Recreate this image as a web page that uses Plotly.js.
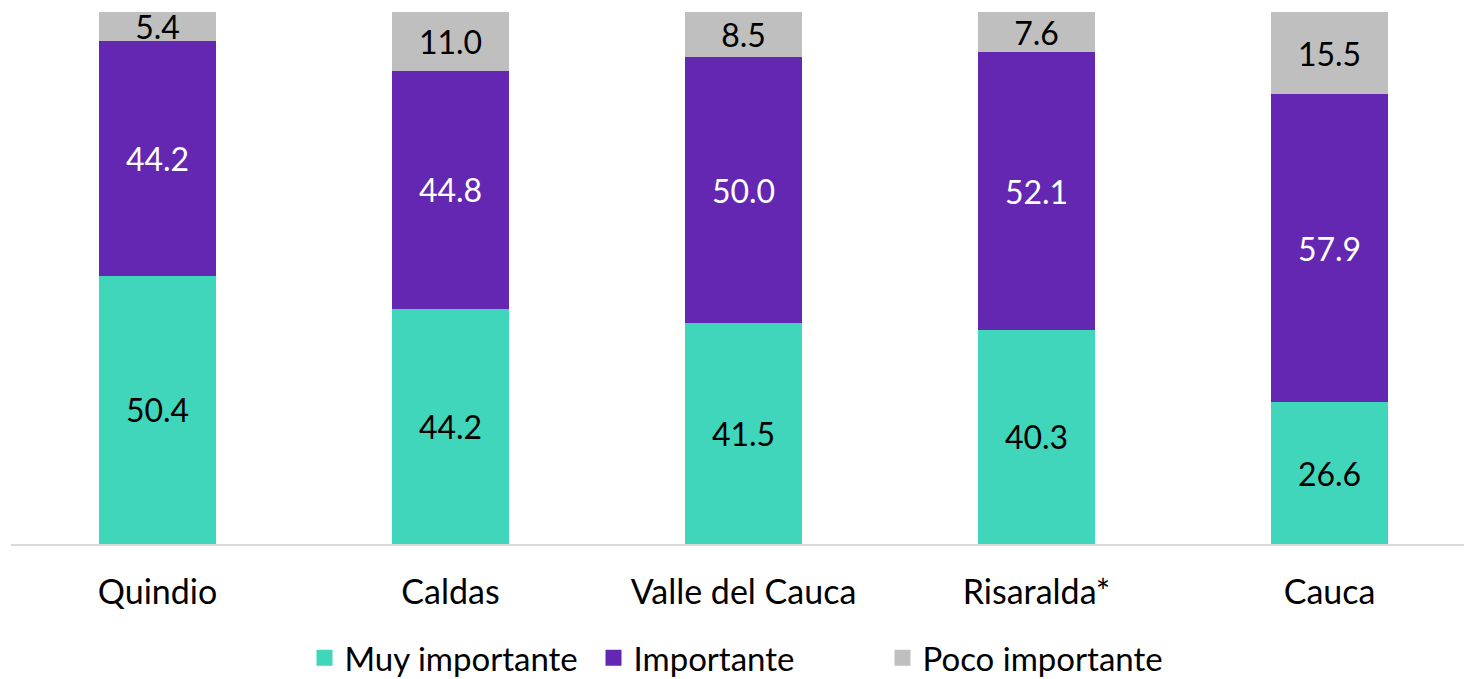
<!DOCTYPE html>
<html>
<head>
<meta charset="utf-8">
<script src="https://cdn.plot.ly/plotly-3.0.1.min.js"></script>
<style>html,body{margin:0;padding:0;background:#fff;}#chart{width:1464px;height:679px;}</style>
</head>
<body>
<div id="chart"></div>
<script>
const categories = ["Quindio", "Caldas", "Valle del Cauca", "Risaralda*", "Cauca"];
const muyImportante = [50.4, 44.2, 41.5, 40.3, 26.6];
const importante = [44.2, 44.8, 50.0, 52.1, 57.9];
const pocoImportante = [5.4, 11.0, 8.5, 7.6, 15.5];
const seriesNames = ["Muy importante", "Importante", "Poco importante"];
const colors = ["#40d6bb", "#6327b1", "#bfbfbf"];
const textColors = ["#000000", "#ffffff", "#000000"];

const FONT = "Lato, 'Noto Sans', sans-serif";
const seriesData = [muyImportante, importante, pocoImportante];

const traces = seriesData.map((vals, i) => ({
  type: "bar",
  x: categories,
  y: vals,
  name: seriesNames[i],
  marker: {color: colors[i]},
  width: 0.4,
  text: vals.map(v => v.toFixed(1)),
  textposition: "inside",
  insidetextanchor: "middle",
  textangle: 0,
  constraintext: "none",
  textfont: {family: FONT, size: 32, color: textColors[i]},
  hoverinfo: "skip",
  showlegend: false
}));

// legend entries
seriesNames.forEach((n, i) => {
  traces.push({
    type: "scatter",
    mode: "markers",
    x: [null], y: [null],
    name: n,
    marker: {symbol: "square", size: 16, color: colors[i]},
    showlegend: true,
    hoverinfo: "skip"
  });
});

const layout = {
  width: 1464,
  height: 679,
  margin: {l: 11, r: 0, t: 12, b: 135, autoexpand: false},
  barmode: "stack",
  paper_bgcolor: "#ffffff",
  plot_bgcolor: "#ffffff",
  font: {family: FONT, size: 34, color: "#000000"},
  xaxis: {
    type: "category",
    range: [-0.5, 4.459],
    showline: true,
    linecolor: "#d9d9d9",
    linewidth: 2,
    showgrid: false,
    zeroline: false,
    ticks: "",
    ticklabelstandoff: 17,
    tickfont: {family: FONT, size: 34, color: "#000000"},
    fixedrange: true
  },
  yaxis: {
    visible: false,
    range: [0, 100],
    fixedrange: true
  },
  showlegend: true,
  legend: {
    orientation: "h",
    x: 0.202,
    xanchor: "left",
    y: -0.214,
    yanchor: "middle",
    entrywidth: 244,
    font: {family: FONT, size: 33, color: "#000000"},
    itemsizing: "trace",
    traceorder: "normal",
    bgcolor: "rgba(0,0,0,0)"
  }
};

Plotly.newPlot("chart", traces, layout, {displayModeBar: false, staticPlot: true});
</script>
</body>
</html>
